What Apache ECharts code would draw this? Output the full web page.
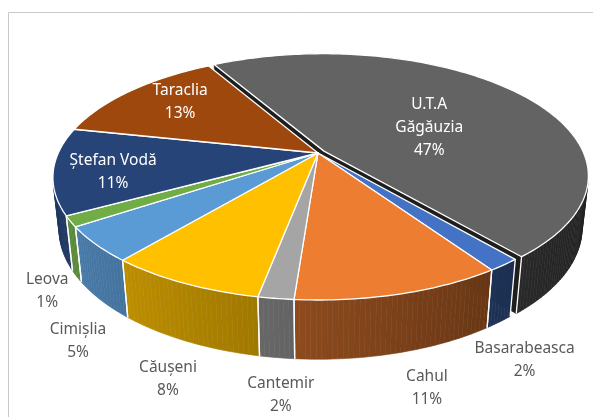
<!DOCTYPE html>
<html>
<head>
<meta charset="utf-8">
<script src="https://cdn.jsdelivr.net/npm/echarts@6/dist/echarts.min.js"></script>
<style>
html,body{margin:0;padding:0;background:#fff}
#chart{width:593px;height:417px}
</style>
</head>
<body>
<div id="chart"></div>
<script>
var regions = ['U.T.A\nGăgăuzia', 'Basarabeasca', 'Cahul', 'Cantemir', 'Căușeni', 'Cimișlia', 'Leova', 'Ștefan Vodă', 'Taraclia'];
var shares = [47.1, 1.7, 10.6, 1.8, 8.0, 4.6, 1.4, 11.4, 13.4];
var topColors = ['#636363', '#4472c4', '#ed7d31', '#a5a5a5', '#ffc000', '#5b9bd5', '#70ad47', '#264478', '#9e480e'];
var explode = [0.028, 0, 0, 0, 0, 0, 0, 0, 0];
// label place: radius (1 = rim) and shift in degrees from the slice middle
var labelRadius = [0.50, 1.43, 1.46, 1.46, 1.45, 1.40, 1.27, 0.78, 0.75];
var labelShift = [8.3, 12.7, 3, -3.5, -8.4, -17.8, -16.9, -3.1, 2.9];
var labelInside = [true, false, false, false, false, false, false, true, true];

// 3d view of the pie
var startDeg = -29.6;
var cx = 318, cy = 153;
var F = 1157.8, L = 4.458;
var sinA = 0.4528, cosA = Math.sqrt(1 - sinA * sinA);
var thick = 0.225;

var total = 0, starts = [];
shares.forEach(function (v) { starts.push(total); total += v; });

function project(u, v, z) {
    var depth = L - v * cosA - z * sinA;
    return [cx + F * u / depth, cy + F * (v * sinA - z * cosA) / depth];
}

function shade(hex, f) {
    var n = parseInt(hex.slice(1), 16);
    var r = Math.round(((n >> 16) & 255) * f), g = Math.round(((n >> 8) & 255) * f), b = Math.round((n & 255) * f);
    return 'rgb(' + r + ',' + g + ',' + b + ')';
}

function renderSlice(params, api) {
    var i = params.dataIndex;
    var value = api.value(0);
    var a0 = startDeg + starts[i] / total * 360;
    var a1 = a0 + value / total * 360;
    var mid = (a0 + a1) / 2 * Math.PI / 180;
    var ex = explode[i] * Math.sin(mid), ey = -explode[i] * Math.cos(mid);
    var rad = Math.PI / 180;
    function rim(deg, z) {
        return project(ex + Math.sin(deg * rad), ey - Math.cos(deg * rad), z);
    }
    var camY = L * cosA;
    var children = [];
    var n = Math.max(2, Math.ceil(a1 - a0));
    var topPts = [project(ex, ey, 0)];
    for (var k = 0; k <= n; k++) topPts.push(rim(a0 + (a1 - a0) * k / n, 0));

    // outer wall, only the parts facing us
    var firstVis = false, lastVis = false;
    for (k = 0; k < n; k++) {
        var t1 = a0 + (a1 - a0) * k / n, t2 = a0 + (a1 - a0) * (k + 1) / n;
        var tm = (t1 + t2) / 2 * rad;
        var nx = Math.sin(tm), ny = -Math.cos(tm);
        var dot = nx * (0 - ex - nx) + ny * (camY - ey - ny);
        if (dot <= 0) continue;
        if (k === 0) firstVis = true;
        if (k === n - 1) lastVis = true;
        var col = shade(topColors[i], 0.58 - 0.25 * Math.sin(tm));
        children.push({
            type: 'polygon', z2: 2,
            shape: { points: [rim(t1, 0), rim(t2, 0), rim(t2, -thick), rim(t1, -thick)] },
            style: { fill: col, stroke: col, lineWidth: 0.6 }
        });
    }
    if (firstVis) children.push({
        type: 'line', z2: 3,
        shape: { x1: rim(a0, 0)[0], y1: rim(a0, 0)[1], x2: rim(a0, -thick)[0], y2: rim(a0, -thick)[1] },
        style: { stroke: '#fff', lineWidth: 1.3 }
    });
    if (lastVis) children.push({
        type: 'line', z2: 3,
        shape: { x1: rim(a1, 0)[0], y1: rim(a1, 0)[1], x2: rim(a1, -thick)[0], y2: rim(a1, -thick)[1] },
        style: { stroke: '#fff', lineWidth: 1.3 }
    });

    // cut faces of a pulled out slice
    if (explode[i] > 0) {
        [[a0, -1], [a1, 1]].forEach(function (e) {
            var t = e[0] * rad;
            var fx = e[1] * Math.cos(t), fy = e[1] * Math.sin(t);
            if (fx * (0 - ex) + fy * (camY - ey) <= 0) return;
            children.push({
                type: 'polygon', z2: 1,
                shape: { points: [project(ex, ey, 0), rim(e[0], 0), rim(e[0], -thick), project(ex, ey, -thick)] },
                style: { fill: '#1e1e1e', stroke: '#1e1e1e', lineWidth: 0.5 }
            });
        });
    }

    children.push({
        type: 'polygon', z2: 10,
        shape: { points: topPts },
        style: { fill: topColors[i], stroke: '#fff', lineWidth: 1.3, lineJoin: 'round' }
    });

    var lt = ((a0 + a1) / 2 + labelShift[i]) * rad;
    var lp = project(labelRadius[i] * Math.sin(lt), -labelRadius[i] * Math.cos(lt), 0);
    children.push({
        type: 'text', z2: 20, x: lp[0], y: lp[1],
        style: {
            text: regions[i] + '\n' + Math.round(value / total * 100) + '%',
            fill: labelInside[i] ? '#ffffff' : '#595959',
            font: '15.5px "Noto Sans"',
            lineHeight: 23,
            align: 'center',
            verticalAlign: 'middle'
        }
    });
    return { type: 'group', children: children };
}

var chart = echarts.init(document.getElementById('chart'));
chart.setOption({
    animation: false,
    graphic: [{
        type: 'rect', silent: true,
        shape: { x: 8.5, y: 12.5, width: 640, height: 440 },
        style: { fill: 'none', stroke: '#c8c8c8', lineWidth: 1 }
    }],
    series: [{
        type: 'custom',
        coordinateSystem: 'none',
        silent: true,
        renderItem: renderSlice,
        data: shares.map(function (v) { return [v]; })
    }]
});
</script>
</body>
</html>
